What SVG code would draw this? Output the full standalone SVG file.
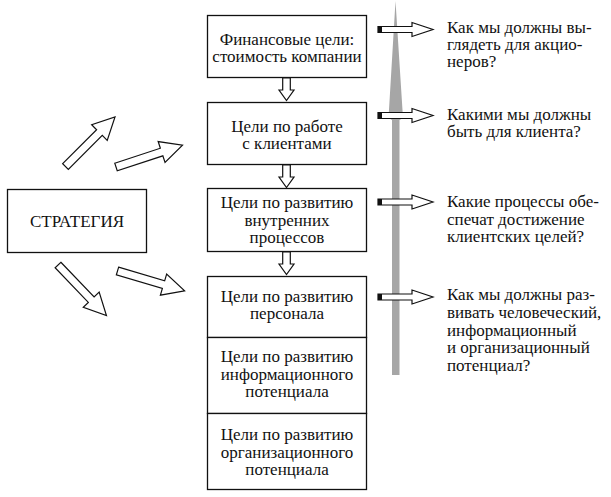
<svg xmlns="http://www.w3.org/2000/svg" width="611" height="497" viewBox="0 0 611 497">
<defs>
<polygon id="diag" points="0,-4 48,-4 48,-11 70,0 48,11 48,4 0,4"/>
<polygon id="down" points="-3.8,0 3.8,0 3.8,12 7.5,12 0,22.5 -7.5,12 -3.8,12"/>
<g id="right">
<polygon points="0,-3 34,-3 34,-7 55,0 34,7 34,3 0,3"/>
<rect x="0" y="-3" width="4" height="6" fill="#111" stroke="none"/>
</g>
</defs>
<rect width="611" height="497" fill="#fff"/>

<polygon points="395.5,1 403,118 399.5,120 399.5,375 392,375 392,120 388.5,118" fill="#a6a6a6"/>

<g id="n-strategy">
<rect fill="#fff" stroke="#111" stroke-width="1.3" x="7.5" y="189.5" width="139" height="63"/>
<text font-family="Times New Roman" font-size="17" fill="#111" text-anchor="middle" x="77" y="227">СТРАТЕГИЯ</text>
</g>

<g id="n-fin">
<rect fill="#fff" stroke="#111" stroke-width="1.3" x="207.5" y="15.5" width="159" height="62"/>
<text font-family="Times New Roman" font-size="17" fill="#111" text-anchor="middle" x="287" y="45">Финансовые цели:</text>
<text font-family="Times New Roman" font-size="17" fill="#111" text-anchor="middle" x="287" y="62">стоимость компании</text>
</g>

<g id="n-client">
<rect fill="#fff" stroke="#111" stroke-width="1.3" x="207.5" y="102.5" width="159" height="62"/>
<text font-family="Times New Roman" font-size="17" fill="#111" text-anchor="middle" x="287" y="132">Цели по работе</text>
<text font-family="Times New Roman" font-size="17" fill="#111" text-anchor="middle" x="287" y="149">с клиентами</text>
</g>

<g id="n-process">
<rect fill="#fff" stroke="#111" stroke-width="1.3" x="207.5" y="188.5" width="159" height="63"/>
<text font-family="Times New Roman" font-size="17" fill="#111" text-anchor="middle" x="287" y="208">Цели по развитию</text>
<text font-family="Times New Roman" font-size="17" fill="#111" text-anchor="middle" x="287" y="226">внутренних</text>
<text font-family="Times New Roman" font-size="17" fill="#111" text-anchor="middle" x="287" y="243">процессов</text>
</g>

<g id="n-staff">
<rect fill="#fff" stroke="#111" stroke-width="1.3" x="207.5" y="276.5" width="159" height="61"/>
<text font-family="Times New Roman" font-size="17" fill="#111" text-anchor="middle" x="287" y="302">Цели по развитию</text>
<text font-family="Times New Roman" font-size="17" fill="#111" text-anchor="middle" x="287" y="319">персонала</text>
</g>

<g id="n-info">
<rect fill="#fff" stroke="#111" stroke-width="1.3" x="207.5" y="337.5" width="159" height="76"/>
<text font-family="Times New Roman" font-size="17" fill="#111" text-anchor="middle" x="287" y="362">Цели по развитию</text>
<text font-family="Times New Roman" font-size="17" fill="#111" text-anchor="middle" x="287" y="380">информационного</text>
<text font-family="Times New Roman" font-size="17" fill="#111" text-anchor="middle" x="287" y="397">потенциала</text>
</g>

<g id="n-org">
<rect fill="#fff" stroke="#111" stroke-width="1.3" x="207.5" y="413.5" width="159" height="76"/>
<text font-family="Times New Roman" font-size="17" fill="#111" text-anchor="middle" x="287" y="440">Цели по развитию</text>
<text font-family="Times New Roman" font-size="17" fill="#111" text-anchor="middle" x="287" y="458">организационного</text>
<text font-family="Times New Roman" font-size="17" fill="#111" text-anchor="middle" x="287" y="475">потенциала</text>
</g>

<g id="q-fin">
<text font-family="Times New Roman" font-size="17" fill="#111" x="447" y="33">Как мы должны вы-</text>
<text font-family="Times New Roman" font-size="17" fill="#111" x="447" y="50">глядеть для акцио-</text>
<text font-family="Times New Roman" font-size="17" fill="#111" x="447" y="67">неров?</text>
</g>
<g id="q-client">
<text font-family="Times New Roman" font-size="17" fill="#111" x="447" y="120">Какими мы должны</text>
<text font-family="Times New Roman" font-size="17" fill="#111" x="447" y="137">быть для клиента?</text>
</g>
<g id="q-process">
<text font-family="Times New Roman" font-size="17" fill="#111" x="447" y="207">Какие процессы обе-</text>
<text font-family="Times New Roman" font-size="17" fill="#111" x="447" y="224.5">спечат достижение</text>
<text font-family="Times New Roman" font-size="17" fill="#111" x="447" y="242">клиентских целей?</text>
</g>
<g id="q-staff">
<text font-family="Times New Roman" font-size="17" fill="#111" x="447" y="300">Как мы должны раз-</text>
<text font-family="Times New Roman" font-size="17" fill="#111" x="447" y="318">вивать человеческий,</text>
<text font-family="Times New Roman" font-size="17" fill="#111" x="447" y="335.5">информационный</text>
<text font-family="Times New Roman" font-size="17" fill="#111" x="447" y="353">и организационный</text>
<text font-family="Times New Roman" font-size="17" fill="#111" x="447" y="371">потенциал?</text>
</g>

<g id="connectors" fill="#fff" stroke="#111" stroke-width="1.2">
<use href="#diag" transform="translate(65.5,166.5) rotate(-45)"/>
<use href="#diag" transform="translate(116,167) rotate(-18.2)"/>
<use href="#diag" transform="translate(58,265) rotate(46.2)"/>
<use href="#diag" transform="translate(117.5,271) rotate(16.5)"/>
<use href="#down" transform="translate(286.5,78)"/>
<use href="#down" transform="translate(286.5,165)"/>
<use href="#down" transform="translate(286.5,252)"/>
<use href="#right" transform="translate(378,29.5)"/>
<use href="#right" transform="translate(378,115.5)"/>
<use href="#right" transform="translate(378,202)"/>
<use href="#right" transform="translate(378,297)"/>
</g>
</svg>
